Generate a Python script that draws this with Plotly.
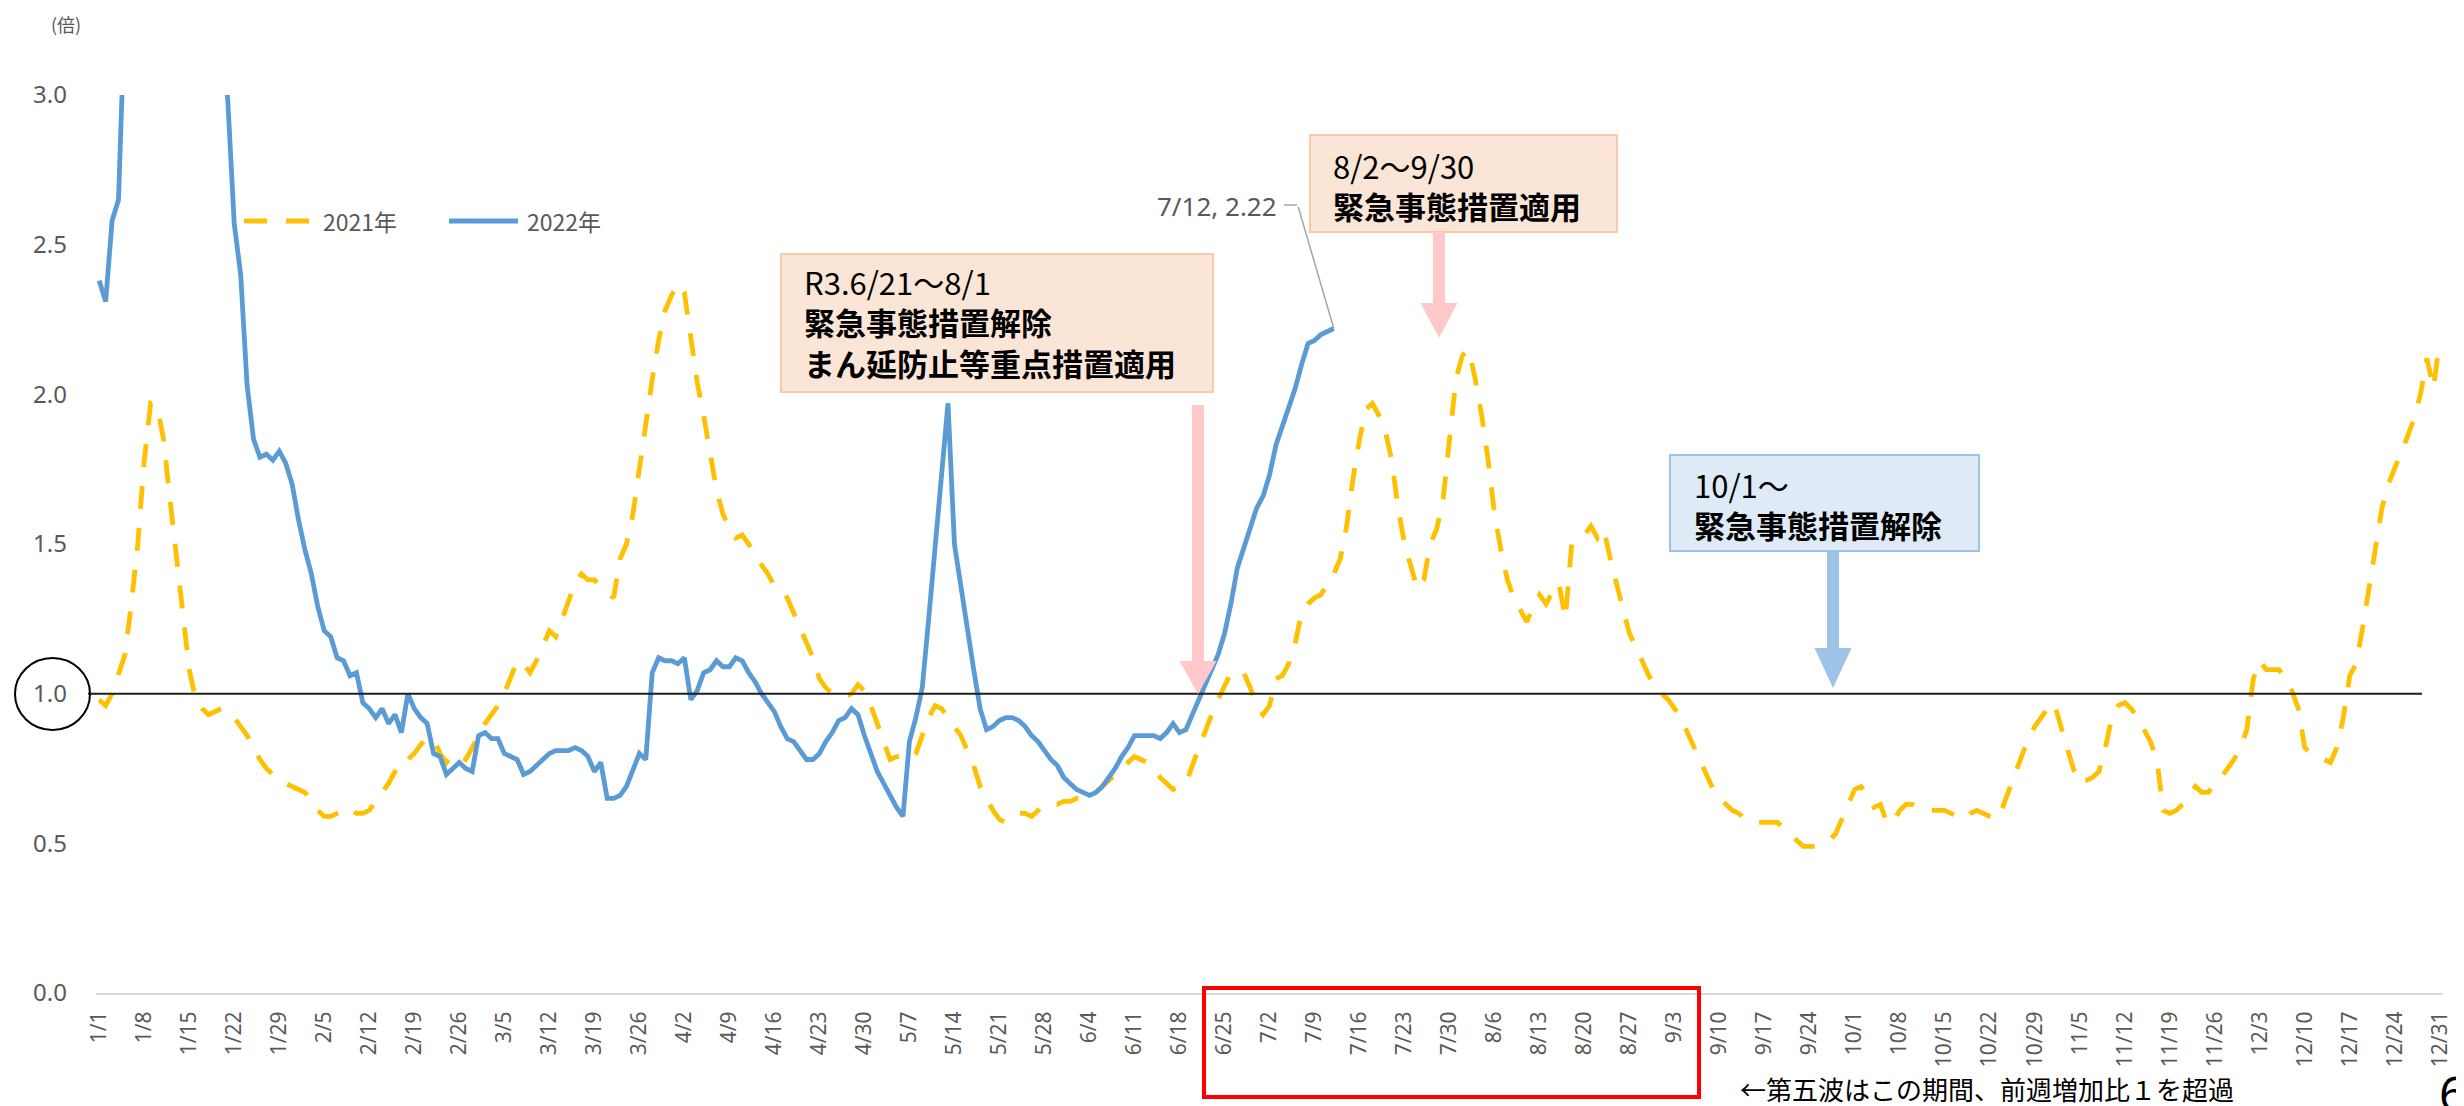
import datetime
import plotly.graph_objects as go

# ---------------- data ----------------
start = datetime.date(2021, 1, 1)
categories = [f"{(start + datetime.timedelta(days=i)).month}/{(start + datetime.timedelta(days=i)).day}" for i in range(365)]
tick_labels = categories[::7]

ratio_2021 = [
    0.98, 0.96, 1.00, 1.06, 1.13, 1.30, 1.50,
    1.78, 1.97, 1.96, 1.85, 1.65, 1.45, 1.25,
    1.08, 0.98, 0.95, 0.93, 0.94, 0.95, 0.93,
    0.92, 0.89, 0.86, 0.82, 0.78, 0.75, 0.73,
    0.72, 0.70, 0.69, 0.68, 0.67, 0.64, 0.61,
    0.59, 0.59, 0.60, 0.61, 0.62, 0.60, 0.60,
    0.61, 0.64, 0.67, 0.70, 0.74, 0.78, 0.78,
    0.80, 0.83, 0.85, 0.85, 0.80, 0.77, 0.80,
    0.79, 0.78, 0.82, 0.86, 0.90, 0.93, 0.96,
    1.00, 1.06, 1.11, 1.10, 1.07, 1.11, 1.16,
    1.21, 1.19, 1.25, 1.31, 1.37, 1.40, 1.38,
    1.38, 1.36, 1.34, 1.32, 1.45, 1.50, 1.60,
    1.75, 1.92, 2.05, 2.18, 2.28, 2.33, 2.37,
    2.34, 2.18, 2.04, 1.93, 1.80, 1.68, 1.60,
    1.55, 1.52, 1.53, 1.50, 1.46, 1.43, 1.40,
    1.36, 1.35, 1.32, 1.27, 1.22, 1.17, 1.12,
    1.05, 1.02, 1.00, 1.00, 0.99, 1.00, 1.03,
    1.01, 0.96, 0.90, 0.84, 0.78, 0.79, 0.79,
    0.78, 0.80, 0.86, 0.92, 0.96, 0.95, 0.92,
    0.89, 0.86, 0.81, 0.76, 0.69, 0.65, 0.61,
    0.58, 0.57, 0.58, 0.60, 0.60, 0.59, 0.61,
    0.63, 0.63, 0.63, 0.64, 0.64, 0.65, 0.65,
    0.66, 0.67, 0.69, 0.71, 0.73, 0.75, 0.77,
    0.79, 0.78, 0.77, 0.75, 0.72, 0.70, 0.68,
    0.69, 0.70, 0.76, 0.82, 0.88, 0.93, 0.98,
    1.03, 1.07, 1.07, 1.07, 1.02, 0.96, 0.93,
    0.96, 1.05, 1.06, 1.10, 1.17, 1.27, 1.30,
    1.32, 1.33, 1.37, 1.40, 1.45, 1.56, 1.72,
    1.85, 1.95, 1.97, 1.93, 1.88, 1.78, 1.62,
    1.50, 1.42, 1.35, 1.38, 1.50, 1.55, 1.65,
    1.85, 2.05, 2.13, 2.15, 2.05, 1.93, 1.78,
    1.60, 1.48, 1.38, 1.32, 1.28, 1.24, 1.29,
    1.33, 1.30, 1.34, 1.37, 1.25, 1.50, 1.52,
    1.53, 1.56, 1.52, 1.55, 1.45, 1.36, 1.28,
    1.20, 1.15, 1.10, 1.06, 1.02, 1.00, 0.98,
    0.95, 0.92, 0.87, 0.82, 0.77, 0.72, 0.68,
    0.65, 0.63, 0.61, 0.60, 0.58, 0.58, 0.57,
    0.57, 0.57, 0.57, 0.55, 0.53, 0.51, 0.49,
    0.49, 0.49, 0.50, 0.51, 0.53, 0.58, 0.63,
    0.68, 0.69, 0.66, 0.62, 0.63, 0.57, 0.57,
    0.61, 0.63, 0.63, 0.62, 0.61, 0.61, 0.61,
    0.61, 0.60, 0.59, 0.58, 0.60, 0.61, 0.60,
    0.59, 0.58, 0.62, 0.68, 0.74, 0.80, 0.85,
    0.89, 0.92, 0.95, 0.97, 0.90, 0.82, 0.75,
    0.70, 0.71, 0.72, 0.74, 0.82, 0.92, 0.96,
    0.97, 0.95, 0.92, 0.88, 0.84, 0.78, 0.61,
    0.60, 0.61, 0.63, 0.66, 0.69, 0.67, 0.67,
    0.70, 0.72, 0.75, 0.78, 0.82, 0.88, 1.05,
    1.11, 1.08, 1.08, 1.08, 1.05, 1.01, 0.95,
    0.82, 0.80, 0.79, 0.78, 0.77, 0.82, 0.92,
    1.06, 1.10, 1.22, 1.35, 1.50, 1.62, 1.70,
    1.75, 1.80, 1.86, 1.92, 2.00, 2.12, 2.02,
    2.18,
]

ratio_2022 = [
    2.38, 2.31, 2.58, 2.65, 3.30, 3.80, 4.30,
    4.70, 5.00, 5.20, 5.30, 5.20, 5.00, 4.70,
    4.40, 4.10, 3.80, 3.60, 3.40, 3.20, 2.98,
    2.57, 2.40, 2.03, 1.85, 1.79, 1.80, 1.78,
    1.81, 1.77, 1.70, 1.58, 1.48, 1.40, 1.29,
    1.21, 1.19, 1.12, 1.11, 1.06, 1.07, 0.97,
    0.95, 0.92, 0.95, 0.90, 0.93, 0.87, 1.00,
    0.95, 0.92, 0.90, 0.80, 0.79, 0.73, 0.75,
    0.77, 0.75, 0.74, 0.86, 0.87, 0.85, 0.85,
    0.80, 0.79, 0.78, 0.73, 0.74, 0.76, 0.78,
    0.80, 0.81, 0.81, 0.81, 0.82, 0.81, 0.79,
    0.74, 0.77, 0.65, 0.65, 0.66, 0.69, 0.74,
    0.80, 0.78, 1.07, 1.12, 1.11, 1.11, 1.10,
    1.12, 0.98, 1.01, 1.07, 1.08, 1.11, 1.09,
    1.09, 1.12, 1.11, 1.07, 1.04, 1.00, 0.97,
    0.94, 0.89, 0.85, 0.84, 0.81, 0.78, 0.78,
    0.80, 0.84, 0.87, 0.91, 0.92, 0.95, 0.93,
    0.86, 0.80, 0.74, 0.70, 0.66, 0.62, 0.59,
    0.84, 0.92, 1.02, 1.25, 1.50, 1.74, 1.97,
    1.50, 1.37, 1.22, 1.08, 0.95, 0.88, 0.89,
    0.91, 0.92, 0.92, 0.91, 0.89, 0.86, 0.84,
    0.81, 0.78, 0.76, 0.72, 0.70, 0.68, 0.67,
    0.66, 0.67, 0.69, 0.72, 0.75, 0.79, 0.82,
    0.86, 0.86, 0.86, 0.86, 0.85, 0.87, 0.90,
    0.87, 0.88, 0.93, 0.98, 1.02, 1.08, 1.13,
    1.20, 1.30, 1.42, 1.49, 1.56, 1.62, 1.66,
    1.73, 1.83, 1.89, 1.95, 2.02, 2.10, 2.17,
    2.18, 2.20, 2.21, 2.22,
]

y_ticks = [0.0, 0.5, 1.0, 1.5, 2.0, 2.5, 3.0]
series_names = ["2021年", "2022年"]

# ---------------- layout helpers ----------------
W, H = 2464, 1106
DX, DY = -6, -7                      # global alignment offset
PL, PR, PT, PB = 94 + DX, 2435, 94 + DY, 992 + DY


def px(X):
    return (X + DX - PL) / (PR - PL)


def py(Y):
    return (PB - (Y + DY)) / (PB - PT)


YELLOW = "#FFC000"
BLUE = "#5B9BD5"
GRAY = "#595959"
PINK = "#FFC9C9"
ARROW_BLUE = "#9DC3E6"
JP = "Noto Sans CJK JP"
LAT = "Noto Sans"
DASH = "23px,19px"

fig = go.Figure()
fig.add_trace(go.Scatter(x=categories, y=ratio_2021, mode="lines", name=series_names[0],
                         line=dict(color=YELLOW, width=4.8, dash=DASH), showlegend=False))
fig.add_trace(go.Scatter(x=categories[:len(ratio_2022)], y=ratio_2022, mode="lines", name=series_names[1],
                         line=dict(color=BLUE, width=4.8), showlegend=False))

shapes = []
# reference line at 1.0
shapes.append(dict(type="line", xref="paper", yref="y", x0=px(86), x1=px(2420), y0=1, y1=1,
                   line=dict(color="#1F1F1F", width=2)))
# circle around 1.0
shapes.append(dict(type="circle", xref="paper", yref="paper", x0=px(13), x1=px(88), y0=py(729), y1=py(657),
                   line=dict(color="#000000", width=2)))


def box(x0, y0, x1, y1, fill, border):
    shapes.append(dict(type="rect", xref="paper", yref="paper", x0=px(x0), x1=px(x1), y0=py(y1), y1=py(y0),
                       fillcolor=fill, line=dict(color=border, width=2), layer="above"))


def arrow(xc, y_top, y_head, y_tip, shaft_w, head_w, color):
    shapes.append(dict(type="rect", xref="paper", yref="paper",
                       x0=px(xc - shaft_w / 2), x1=px(xc + shaft_w / 2), y0=py(y_head), y1=py(y_top),
                       fillcolor=color, line=dict(width=0), layer="above"))
    path = (f"M {px(xc - head_w / 2)} {py(y_head)} L {px(xc + head_w / 2)} {py(y_head)} "
            f"L {px(xc)} {py(y_tip)} Z")
    shapes.append(dict(type="path", xref="paper", yref="paper", path=path,
                       fillcolor=color, line=dict(width=0), layer="above"))


box(779, 253, 1211, 391, "#FBE5D6", "#F8CBAD")
box(1308, 134, 1615, 231, "#FBE5D6", "#F8CBAD")
box(1668, 454, 1977, 550, "#DEEBF7", "#9DC3E6")
arrow(1196, 404, 660, 693, 12, 37, PINK)
arrow(1437, 231, 302, 337, 12, 37, PINK)
arrow(1831, 550, 647, 687, 12, 37, ARROW_BLUE)

# custom legend samples
LEG_Y = 220
shapes.append(dict(type="line", xref="paper", yref="paper", x0=px(242), x1=px(307), y0=py(LEG_Y), y1=py(LEG_Y),
                   line=dict(color=YELLOW, width=4.8, dash=DASH)))
shapes.append(dict(type="line", xref="paper", yref="paper", x0=px(447), x1=px(516), y0=py(LEG_Y), y1=py(LEG_Y),
                   line=dict(color=BLUE, width=4.8)))

# red box around x-axis labels
shapes.append(dict(type="rect", xref="paper", yref="paper", x0=px(1202), x1=px(1697), y0=py(1096), y1=py(987),
                   line=dict(color="#FF0000", width=4)))

# leader line short horizontal piece
shapes.append(dict(type="line", xref="paper", yref="paper", x0=px(1282), x1=px(1295), y0=py(204), y1=py(204),
                   line=dict(color="#A6A6A6", width=1.5)))

annotations = []


def text(x, y, s, size, color="#000000", family=JP, xanchor="left", yanchor="middle"):
    annotations.append(dict(x=px(x), y=py(y), xref="paper", yref="paper", text=s, showarrow=False,
                            xanchor=xanchor, yanchor=yanchor, align="left",
                            font=dict(family=family, size=size, color=color)))


text(800, 321, "R3.6/21～8/1<br><b>緊急事態措置解除</b><br><b>まん延防止等重点措置適用</b>", 31)
text(1329, 184, "8/2～9/30<br><b>緊急事態措置適用</b>", 31)
text(1690, 503, "10/1～<br><b>緊急事態措置解除</b>", 31)

text(319, LEG_Y, series_names[0], 23, GRAY)
text(523, LEG_Y, series_names[1], 23, GRAY)
text(64, 23, "(倍)", 18, GRAY, xanchor="center")
text(1736, 1087, "←第五波はこの期間、前週増加比１を超過", 26)
text(2450, 1057, "6", 48, "#000000", family=LAT, xanchor="center", yanchor="top")

# data label for the last 2022 point
last_i = len(ratio_2022) - 1
text(1277, 205, f"{categories[last_i]}, {ratio_2022[last_i]:.2f}", 26, GRAY, family=LAT, xanchor="right")
annotations.append(dict(x=categories[last_i], y=ratio_2022[last_i], xref="x", yref="y", text="",
                        showarrow=True, arrowhead=0, arrowwidth=1.5, arrowcolor="#A6A6A6",
                        ax=-36, ay=-123, standoff=0, startstandoff=0))

fig.update_layout(
    width=W, height=H, autosize=False,
    margin=dict(l=PL, r=W - PR, t=PT, b=H - PB, pad=0),
    paper_bgcolor="white", plot_bgcolor="white",
    showlegend=False,
    shapes=shapes, annotations=annotations,
    xaxis=dict(type="category", categoryorder="array", categoryarray=categories,
               range=[-0.5, len(categories) - 0.5],
               tickmode="array", tickvals=tick_labels, ticktext=tick_labels, tickangle=-90,
               tickfont=dict(family=LAT, size=21, color=GRAY), ticks="", ticklabelstandoff=8,
               showgrid=False, zeroline=False, showline=True, linecolor="#D9D9D9", linewidth=2),
    yaxis=dict(range=[0, 3], tickmode="array", tickvals=y_ticks, ticktext=[f"{v:.1f}" for v in y_ticks],
               tickfont=dict(family=LAT, size=24, color=GRAY), ticks="", ticklabelstandoff=28,
               showgrid=False, zeroline=False, showline=False),
)

fig.write_html("out.html")
